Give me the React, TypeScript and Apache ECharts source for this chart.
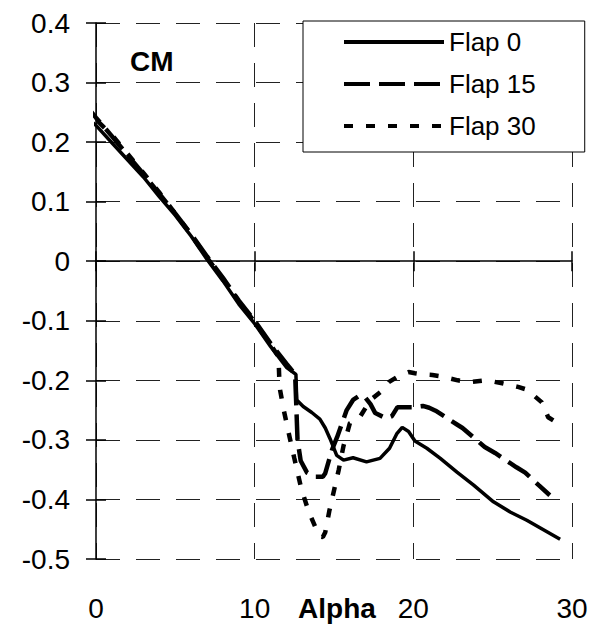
import React, { useEffect, useRef } from "react";
import * as echarts from "echarts";

const FONT = '"Liberation Sans", Arial, sans-serif';

const xTicks = [0, 10, 20, 30];
const yTicks = [-0.5, -0.4, -0.3, -0.2, -0.1, 0, 0.1, 0.2, 0.3, 0.4];

const alphaFlap0 = [-0.8, 0, 1, 2, 3, 4, 5, 6, 7, 8, 9, 10, 11, 12, 12.6, 12.65, 13.06, 13.6, 14.11, 14.45, 14.75, 15.17, 15.6, 16.2, 17.05, 17.9, 18.5, 18.95, 19.3, 19.7, 20.1, 20.85, 21.7, 22.75, 23.8, 25.05, 26.1, 27.15, 28.2, 29.25];
const cmFlap0 = [0.245, 0.228, 0.199, 0.17, 0.141, 0.108, 0.077, 0.042, 0.003, -0.033, -0.072, -0.105, -0.143, -0.178, -0.19, -0.233, -0.244, -0.254, -0.265, -0.28, -0.298, -0.326, -0.334, -0.33, -0.337, -0.331, -0.314, -0.29, -0.279, -0.286, -0.302, -0.314, -0.331, -0.354, -0.376, -0.404, -0.421, -0.435, -0.451, -0.467];

const alphaFlap15 = [-0.8, 0, 1, 2, 3, 4, 5, 6, 7, 8, 9, 10, 11, 12, 12.55, 12.62, 12.7, 12.9, 13.3, 13.8, 14.3, 14.45, 14.87, 15.2, 15.8, 16.2, 16.65, 16.95, 17.3, 17.6, 18.3, 18.65, 19.0, 20.0, 20.6, 21.0, 21.4, 22.8, 23.1, 24.5, 25.15, 26.5, 27.05, 27.9, 28.6];
const cmFlap15 = [0.267, 0.241, 0.21, 0.178, 0.146, 0.113, 0.08, 0.045, 0.008, -0.028, -0.066, -0.1, -0.138, -0.172, -0.19, -0.24, -0.3, -0.335, -0.355, -0.362, -0.362, -0.356, -0.317, -0.295, -0.25, -0.233, -0.225, -0.228, -0.24, -0.255, -0.264, -0.26, -0.245, -0.245, -0.243, -0.246, -0.251, -0.275, -0.28, -0.312, -0.322, -0.346, -0.355, -0.376, -0.393];

const alphaFlap30 = [-0.8, 0, 1, 2, 3, 4, 5, 6, 7, 8, 9, 10, 11, 11.5, 11.55, 11.6, 11.85, 12.2, 12.5, 12.95, 13.4, 13.9, 14.1, 14.3, 14.45, 14.7, 15.0, 15.3, 15.6, 16.0, 16.6, 17.3, 18.1, 18.45, 19.2, 19.7, 20.1, 20.6, 21.2, 21.7, 22.8, 23.6, 24.6, 25.6, 26.6, 27.2, 27.4, 28.1, 28.5, 29.1];
const cmFlap30 = [0.262, 0.238, 0.212, 0.18, 0.148, 0.115, 0.08, 0.044, 0.006, -0.03, -0.068, -0.102, -0.14, -0.16, -0.196, -0.216, -0.252, -0.295, -0.331, -0.383, -0.42, -0.451, -0.462, -0.463, -0.455, -0.42, -0.385, -0.35, -0.31, -0.272, -0.263, -0.233, -0.216, -0.203, -0.191, -0.186, -0.188, -0.19, -0.191, -0.193, -0.2, -0.203, -0.2, -0.205, -0.211, -0.216, -0.221, -0.237, -0.262, -0.272];

const seriesNames = ["Flap 0", "Flap 15", "Flap 30"];

const pair = (xs: number[], ys: number[]) => xs.map((x, i) => [x, ys[i]]);

const styles = [
  { width: 3.5, type: "solid" as any },
  { width: 4.5, type: [26, 9] as any },
  { width: 4.5, type: [9, 13] as any },
];

export default function App() {
  const ref = useRef<HTMLDivElement>(null);
  useEffect(() => {
    if (!ref.current) return;
    const chart = echarts.init(ref.current, undefined, { renderer: "svg" });
    const xMin = xTicks[0];
    const xMax = xTicks[xTicks.length - 1];
    const yMin = yTicks[0];
    const yMax = yTicks[yTicks.length - 1];
    const axisCommonX = { type: "value", min: xMin, max: xMax, interval: 10, position: "bottom" };
    const axisCommonY = { type: "value", min: yMin, max: yMax, interval: 0.1, position: "left" };
    const datasets = [
      pair(alphaFlap0, cmFlap0),
      pair(alphaFlap15, cmFlap15),
      pair(alphaFlap30, cmFlap30),
    ];
    chart.setOption({
      animation: false,
      backgroundColor: "#fff",
      grid: { left: 96, right: 28, top: 23, bottom: 67, containLabel: false },
      legend: {
        orient: "vertical",
        left: 303,
        top: 21,
        padding: [8, 49, 13, 39],
        itemWidth: 100,
        itemHeight: 26,
        itemGap: 16,
        backgroundColor: "#fff",
        borderColor: "#000",
        borderWidth: 1,
        itemStyle: { opacity: 0, color: "rgba(0,0,0,0)", borderWidth: 0 },
        textStyle: { fontFamily: FONT, fontSize: 26, color: "#000", lineHeight: 26 },
        data: seriesNames.map((name, i) => ({
          name,
          itemStyle: { opacity: 0, color: "rgba(0,0,0,0)", borderWidth: 0 },
          lineStyle: { color: "#000", width: 4, type: styles[i].type, opacity: 1 },
        })),
      },
      xAxis: [
        {
          ...axisCommonX,
          axisLine: { show: false, onZero: false },
          axisTick: { show: false },
          axisLabel: { margin: 35, fontSize: 28, fontFamily: FONT, color: "#000" },
          splitLine: { show: true, lineStyle: { color: "#222", width: 1, type: [24, 16] } },
        },
        {
          ...axisCommonX,
          axisLine: { show: true, onZero: true, onZeroAxisIndex: 0, lineStyle: { color: "#000", width: 1.5 } },
          axisTick: { show: true, inside: true, length: 10, lineStyle: { color: "#000", width: 1.5 } },
          axisLabel: { show: false },
          splitLine: { show: false },
        },
        {
          ...axisCommonX,
          axisLine: { show: false, onZero: true, onZeroAxisIndex: 0 },
          axisTick: { show: true, inside: false, length: 10, lineStyle: { color: "#000", width: 1.5 } },
          axisLabel: { show: false },
          splitLine: { show: false },
        },
      ],
      yAxis: [
        {
          ...axisCommonY,
          axisLine: { show: true, onZero: false, lineStyle: { color: "#000", width: 1.5 } },
          axisTick: { show: true, inside: false, length: 10, lineStyle: { color: "#000", width: 1.5 } },
          axisLabel: { margin: 26, fontSize: 28, fontFamily: FONT, color: "#000" },
          splitLine: { show: true, lineStyle: { color: "#222", width: 1, type: [24, 16] } },
        },
        {
          ...axisCommonY,
          axisLine: { show: false, onZero: false },
          axisTick: { show: true, inside: true, length: 10, lineStyle: { color: "#000", width: 1.5 } },
          axisLabel: { show: false },
          splitLine: { show: false },
        },
      ],
      graphic: [
        {
          type: "text",
          left: 130,
          top: 47,
          style: { text: "CM", font: `bold 28px ${FONT}`, fill: "#000" },
        },
        {
          type: "text",
          x: 337,
          y: 608,
          style: { text: "Alpha", font: `bold 28px ${FONT}`, fill: "#000", align: "center", verticalAlign: "middle" },
        },
      ],
      series: seriesNames.map((name, i) => ({
        name,
        type: "line",
        data: datasets[i],
        symbol: "none",
        showSymbol: false,
        clip: false,
        lineStyle: { color: "#000", width: styles[i].width, type: styles[i].type },
        itemStyle: { color: "#000" },
      })),
    });
    return () => chart.dispose();
  }, []);
  return (
    <div
      ref={ref}
      style={{ position: "absolute", left: 0, top: 0, width: 600, height: 626 }}
    />
  );
}
